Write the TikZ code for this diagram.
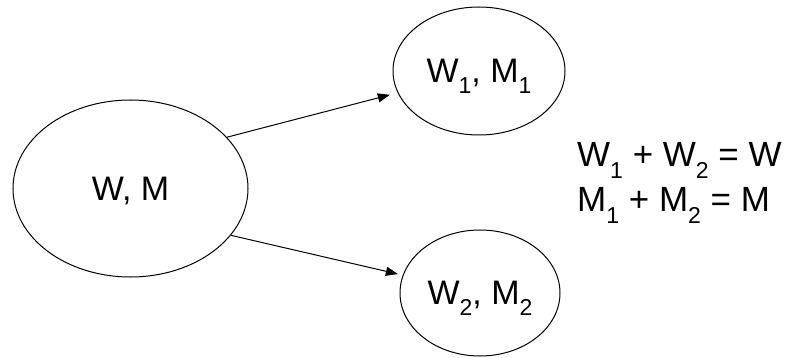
\documentclass[tikz,border=0pt]{standalone}
\usepackage{fontspec}
\setmainfont{Liberation Sans}
\usetikzlibrary{shapes.geometric,arrows.meta}
\newcommand\sbs[1]{\raisebox{-0.32em}{\fontsize{23}{23}\selectfont #1}}
\begin{document}
\begin{tikzpicture}[x=1pt,y=-1pt,
  ell/.style={draw, ellipse, line width=1pt, inner sep=0pt,
    font=\fontsize{34}{40}\selectfont, text height=24pt, text depth=0pt},
  eqn/.style={anchor=base west, inner sep=0pt, font=\fontsize{35}{40}\selectfont},
  arr/.style={line width=1pt, -{Triangle[length=12pt,width=9pt]}}]
\useasboundingbox (0,0) rectangle (790,358);
\fill[white] (0,0) rectangle (790,358);
\node[ell, minimum width=235pt, minimum height=177pt] (wm) at (130.5,188.5) {W, M};
\node[ell, minimum width=172pt, minimum height=128pt] (w1) at (479,71) {W\sbs{1}, M\sbs{1}};
\node[ell, minimum width=160pt, minimum height=126pt] (w2) at (480,293) {W\sbs{2}, M\sbs{2}};
\draw[arr, shorten >=8pt] (wm.28) -- (w1.195);
\draw[arr, shorten >=5pt] (wm.-25) -- (w2.167);
\node[eqn] (e1) at (577,167) {W\sbs{1} + W\sbs{2} = W};
\node[eqn] (e2) at (577,212) {M\sbs{1} + M\sbs{2} = M};
\end{tikzpicture}
\end{document}
